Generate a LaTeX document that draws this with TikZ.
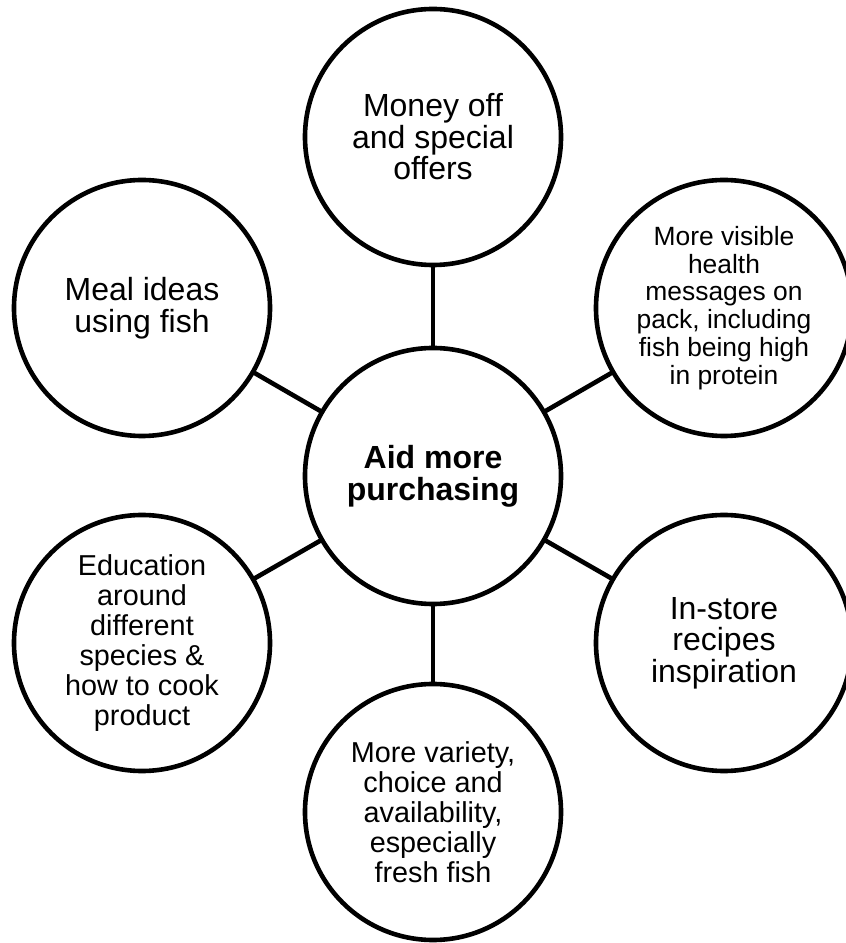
\documentclass[tikz,border=0pt]{standalone}
\usepackage{fontspec}
\setmainfont{Liberation Sans}
\begin{document}
\begin{tikzpicture}[x=1bp, y=1bp, line join=round, line cap=round,
	bubble/.style={circle, draw, line width=4.6bp, minimum size=256bp, inner sep=0pt, align=center},
	big/.style={font=\fontsize{32bp}{31.5bp}\selectfont},
	mid/.style={font=\fontsize{28.8bp}{30bp}\selectfont},
	small/.style={font=\fontsize{26.4bp}{27.7bp}\selectfont},
	link/.style={line width=4.6bp}]
	\useasboundingbox (0,0) rectangle (846,943);
	\node[bubble, font=\fontsize{32bp}{32bp}\selectfont\bfseries] (hub) at (433,467) {Aid more\\purchasing};
	\node[bubble, big] (offers) at (433,806) {Money off\\and special\\offers};
	\node[bubble, big] (meal) at (142,635) {Meal ideas\\using fish};
	\node[bubble, small] (health) at (724,635) {More visible\\health\\messages on\\pack, including\\fish being high\\in protein};
	\node[bubble, mid] (education) at (142,300) {Education\\around\\different\\species \&\\how to cook\\product};
	\node[bubble, big] (instore) at (724,300) {In-store\\recipes\\inspiration};
	\node[bubble, mid] (variety) at (433,131) {More variety,\\choice and\\availability,\\especially\\fresh fish};
	\foreach \n in {offers, meal, health, education, instore, variety}
		\draw[link] (hub) -- (\n);
\end{tikzpicture}
\end{document}
